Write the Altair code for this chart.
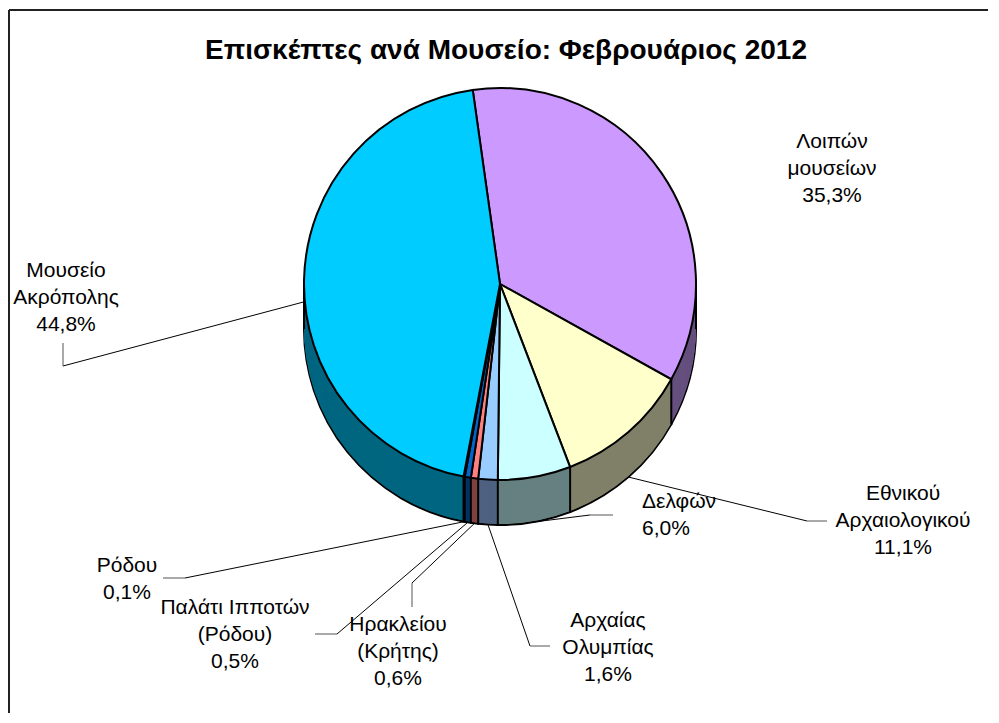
import math
import altair as alt
import pandas as pd

# ---------------- data ----------------
names = ["Λοιπών μουσείων", "Εθνικού Αρχαιολογικού", "Δελφών", "Αρχαίας Ολυμπίας",
         "Ηρακλείου (Κρήτης)", "Παλάτι Ιπποτών (Ρόδου)", "Ρόδου", "Μουσείο Ακρόπολης"]
shares = [35.3, 11.1, 6.0, 1.6, 0.6, 0.5, 0.1, 44.8]
label_names = ["Λοιπών\nμουσείων", "Εθνικού\nΑρχαιολογικού", "Δελφών", "Αρχαίας\nΟλυμπίας",
               "Ηρακλείου\n(Κρήτης)", "Παλάτι Ιπποτών\n(Ρόδου)", "Ρόδου", "Μουσείο\nΑκρόπολης"]
title_text = "Επισκέπτες ανά Μουσείο: Φεβρουάριος 2012"

# ---------------- styles ----------------
top_colors = ["#CC99FF", "#FFFFCC", "#CCFFFF", "#99CCFF", "#FF8080", "#0066CC", "#333399", "#00CCFF"]
side_colors = ["#66507F", "#80806A", "#668080", "#4F6180", "#804040", "#003366", "#1A1A4D", "#006680"]
FONT = "Liberation Sans"

# ---------------- layout (page pixels) ----------------
OFF = 8
W, H = 980, 705
CX, CY, R, DEPTH = 500 - OFF, 284 - OFF, 196, 45
START = math.radians(-8)

label_x = [832, 903, 642, 608, 398, 235, 127, 66]
label_y = [148, 500, 508, 627, 631, 614, 572, 277]
label_align = ["center", "center", "left", "center", "center", "center", "center", "center"]
attach = [0, 1, 1, 1, 1, 1, 1, 0.5]
elbow_x = [0, 807, 590, 530, 412, 337, 185, 63]
elbow_y = [0, 521, 515, 646, 583, 634, 578, 366]
tail_x = [0, 827, 613, 550, 412, 315, 163, 63]
tail_y = [0, 521, 515, 646, 607, 634, 578, 343]

df = pd.DataFrame({
    "idx": list(range(len(names))),
    "name": names,
    "share": shares,
    "label": [f"{l}\n" + f"{s:.1f}".replace(".", ",") + "%" for l, s in zip(label_names, shares)],
    "lx": [v - OFF for v in label_x],
    "ly": [v - OFF for v in label_y],
    "align": label_align,
    "att": attach,
    "ex": [v - OFF for v in elbow_x],
    "ey": [v - OFF for v in elbow_y],
    "tx": [v - OFF for v in tail_x],
    "ty": [v - OFF for v in tail_y],
})

theta = alt.Theta("share:Q", stack=True,
                  scale=alt.Scale(domain=[0, 100], range=[START, START + 2 * math.pi]))
order = alt.Order("idx:Q", sort="ascending")
fill_side = alt.Fill("name:N", scale=alt.Scale(domain=names, range=side_colors), legend=None)
color_top = alt.Color("name:N", scale=alt.Scale(domain=names, range=top_colors), legend=None)

layers = []

# side of the "cylinder": stacked offset copies, darker colours
for k in range(DEPTH, 0, -1):
    mk = dict(outerRadius=R)
    if k == DEPTH:
        mk.update(stroke="black", strokeWidth=2)
    layers.append(
        alt.Chart().mark_arc(**mk).encode(
            theta=theta, order=order, fill=fill_side,
            x=alt.value(CX), y=alt.value(CY + k))
    )

# vertical slice boundaries on the front side
cum = alt.Chart().transform_window(
    cum="sum(share)", sort=[alt.SortField("idx", order="ascending")], frame=[None, 0]
)
layers.append(
    cum.transform_calculate(a=f"{START} + datum.cum / 100 * 2 * PI")
    .transform_calculate(
        bx=f"{CX} + {R} * sin(datum.a)",
        by=f"{CY} - {R} * cos(datum.a)",
        by2=f"{CY} - {R} * cos(datum.a) + {DEPTH}")
    .transform_filter("cos(datum.a) < 0")
    .mark_rule(color="black", strokeWidth=2)
    .encode(x=alt.X("bx:Q", scale=None, axis=None),
            y=alt.Y("by:Q", scale=None, axis=None),
            y2="by2:Q")
)

one = pd.DataFrame({"d": [0]})
for ex_ in (CX - R, CX + R):
    layers.append(
        alt.Chart(one).mark_rule(color="black", strokeWidth=2).encode(
            x=alt.value(ex_), y=alt.value(CY), y2=alt.value(CY + DEPTH))
    )

# top face
layers.append(
    alt.Chart().mark_arc(outerRadius=R, stroke="black", strokeWidth=2).encode(
        theta=theta, order=order, color=color_top,
        x=alt.value(CX), y=alt.value(CY))
)

# leader lines
lead = cum.transform_filter("datum.att > 0").transform_calculate(
    am=f"{START} + (datum.cum - datum.share / 2) / 100 * 2 * PI"
).transform_calculate(
    px=f"{CX} + {R} * sin(datum.am)",
    py=f"{CY} - {R} * cos(datum.am) + {DEPTH} * datum.att",
)
layers.append(
    lead.mark_rule(color="black", strokeWidth=1).encode(
        x=alt.X("px:Q", scale=None, axis=None), y=alt.Y("py:Q", scale=None, axis=None),
        x2="ex:Q", y2="ey:Q")
)
layers.append(
    alt.Chart().transform_filter("datum.att > 0").mark_rule(color="#555555", strokeWidth=1).encode(
        x=alt.X("ex:Q", scale=None, axis=None), y=alt.Y("ey:Q", scale=None, axis=None),
        x2="tx:Q", y2="ty:Q")
)

# labels
for al in ("center", "left"):
    layers.append(
        alt.Chart().transform_filter(f"datum.align == '{al}'").mark_text(
            lineBreak="\n", font=FONT, fontSize=21, lineHeight=27, align=al,
            baseline="alphabetic", color="black"
        ).encode(x=alt.X("lx:Q", scale=None, axis=None),
                 y=alt.Y("ly:Q", scale=None, axis=None),
                 text="label:N")
    )

# title
layers.append(
    alt.Chart(pd.DataFrame({"t": [title_text]})).mark_text(
        font=FONT, fontSize=28, fontWeight="bold", align="center",
        baseline="alphabetic", color="black"
    ).encode(x=alt.value(506 - OFF), y=alt.value(59 - OFF), text="t:N")
)

# chart frame (top and left edges visible)
layers.append(
    alt.Chart(one).mark_rule(color="#222222", strokeWidth=2).encode(
        x=alt.value(1), x2=alt.value(W), y=alt.value(2))
)
layers.append(
    alt.Chart(one).mark_rule(color="#222222", strokeWidth=2).encode(
        x=alt.value(1), y=alt.value(2), y2=alt.value(H))
)

chart = alt.layer(*layers, data=df).properties(
    width=W, height=H, padding=0, autosize=alt.AutoSizeParams(type="none")
).configure_view(stroke=None)

chart.save("out.html", embed_options={"renderer": "svg", "actions": False})
